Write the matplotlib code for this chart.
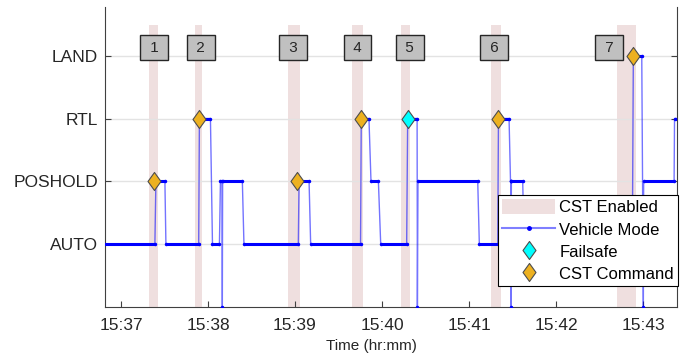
# Vehicle mode vs. CST commands

import numpy as np
import pandas as pd
import matplotlib
matplotlib.use('Agg')
import matplotlib.pyplot as plt
import matplotlib.dates as mdates
from matplotlib.path import Path
from matplotlib.lines import Line2D
from matplotlib.patches import Patch
from matplotlib.collections import LineCollection

plt.rcParams['font.family'] = 'Liberation Sans'

den = '2020-01-01 '  # datum je jen pro prevod casu

# rezimy na ose y
mode_names = ['AUTO', 'POSHOLD', 'RTL', 'LAND']
mode_levels = [1, 2, 3, 4]

# vehicle mode - vrcholy cary (0 = vypadek zaznamu)
mode_time = ['15:36:48', '15:37:23.4', '15:37:24.1', '15:37:30.3', '15:37:31.0', '15:37:53.6',
             '15:37:54.1', '15:38:01.7', '15:38:03.1', '15:38:07.9', '15:38:08.6', '15:38:09.7',
             '15:38:09.9', '15:38:10.1', '15:38:23.7', '15:38:24.8', '15:39:02.3', '15:39:02.8',
             '15:39:09.7', '15:39:10.8', '15:39:45.2', '15:39:45.7', '15:39:51.0', '15:39:52.4',
             '15:39:57.5', '15:39:59.1', '15:40:17.0', '15:40:17.7', '15:40:24.2', '15:40:24.4',
             '15:40:24.8', '15:41:06.0', '15:41:07.1', '15:41:19.8', '15:41:20.3', '15:41:27.6',
             '15:41:28.6', '15:41:28.8', '15:41:29.0', '15:41:29.2', '15:41:37.0', '15:41:38.0',
             '15:42:52.6', '15:42:53.3', '15:42:59.1', '15:43:00.2', '15:43:00.4', '15:43:21.4',
             '15:43:21.7', '15:43:32.0']
mode_val = [1, 1, 2, 2, 1, 1,
            3, 3, 1, 1, 2, 2,
            0, 2, 2, 1, 1, 2,
            2, 1, 1, 3, 3, 2,
            2, 1, 1, 3, 3, 0,
            2, 2, 1, 1, 3, 3,
            2, 2, 0, 2, 2, 1,
            1, 4, 4, 0, 2, 2,
            3, 3]

# CST enabled useky
cst_start = ['15:37:19.3', '15:37:51.0', '15:38:55.4', '15:39:39.1', '15:40:12.9', '15:41:15.0', '15:42:41.9']
cst_end = ['15:37:25.3', '15:37:55.7', '15:39:03.4', '15:39:47.1', '15:40:19.3', '15:41:21.9', '15:42:55.2']
cst_label_time = ['15:37:22.8', '15:37:55.0', '15:38:58.8', '15:39:43.1', '15:40:19.3', '15:41:17.3', '15:42:36.5']
cst_labels = ['1', '2', '3', '4', '5', '6', '7']

# prikazy CST a failsafe
cmd_time = ['15:37:23.0', '15:37:54.0', '15:39:01.6', '15:39:45.5', '15:41:20.0', '15:42:53.3']
cmd_val = [2, 3, 2, 3, 3, 4]
fs_time = ['15:40:17.7']
fs_val = [3]

x_od, x_do = '15:36:49', '15:43:23.4'
y_top = 4.78
band_top = 4.5
label_y = 4.13


def cas(lst):
    d = pd.to_datetime([den + s for s in lst], format='mixed')
    return mdates.date2num(d.to_pydatetime())


tm = cas(mode_time)

fig = plt.figure(figsize=(6.81, 3.56), dpi=100)
ax = fig.add_axes([105 / 681, 1 - 306.5 / 356, 572 / 681, 299.5 / 356])

band_col = '#efdfdf'
for a, b in zip(cas(cst_start), cas(cst_end)):
    ax.axvspan(a, b, ymin=0, ymax=band_top / y_top, color=band_col, lw=0, zorder=0)

# tenka cara + body
ax.plot(tm, mode_val, color=(0, 0, 1, 0.55), lw=1, marker='.', ms=3,
        mfc='blue', mec='blue', zorder=3)

# tlusta vodorovna mista (hustsi vzorky)
segs = [[(tm[i], mode_val[i]), (tm[i + 1], mode_val[i + 1])]
        for i in range(len(tm) - 1) if mode_val[i] == mode_val[i + 1]]
ax.add_collection(LineCollection(segs, colors='blue', linewidths=2.2, capstyle='butt', zorder=3))

# kosoctverec vyssi nez sirsi (jako v matlabu)
kosoctverec = Path([(0, 1), (0.72, 0), (0, -1), (-0.72, 0), (0, 1)], closed=True)
ax.plot(cas(cmd_time), cmd_val, ls='none', marker=kosoctverec, ms=13,
        mfc='#EDB120', mec='#4d4d4d', mew=0.8, zorder=4)
ax.plot(cas(fs_time), fs_val, ls='none', marker=kosoctverec, ms=13,
        mfc='#00FFFF', mec='#4d4d4d', mew=0.8, zorder=4)

for x, lab in zip(cas(cst_label_time), cst_labels):
    ax.text(x, label_y, ' ' + lab + ' ', ha='center', va='center', fontsize=11, color='#262626',
            bbox=dict(boxstyle='square,pad=0.35', fc='#c0c0c0', ec='#262626', lw=1), zorder=5)

ax.set_xlim(cas([x_od])[0], cas([x_do])[0])
ax.set_ylim(0, y_top)
ax.set_yticks(mode_levels)
ax.set_yticklabels(mode_names)
ax.xaxis.set_major_locator(mdates.MinuteLocator())
ax.xaxis.set_major_formatter(mdates.DateFormatter('%H:%M'))
ax.yaxis.grid(True, color='#e3e3e3', lw=1)
ax.set_axisbelow(True)

ax.spines['top'].set_visible(False)
for s in ['left', 'right', 'bottom']:
    ax.spines[s].set_color('#404040')
    ax.spines[s].set_linewidth(0.8)
ax.tick_params(axis='both', direction='in', length=4, color='#404040',
               labelcolor='#262626', labelsize=12.5)
ax.tick_params(axis='y', right=True, pad=5)
ax.tick_params(axis='x', pad=8.5)

ax.set_xlabel('Time (hr:mm)', fontsize=11, color='#262626')
ax.xaxis.set_label_coords(0.465, -0.108)

# legenda
h_band = Patch(facecolor=band_col, edgecolor='none', label='CST Enabled')
h_mode = Line2D([], [], color=(0, 0, 1, 0.5), lw=1.5, marker='.', ms=5, mfc='blue', mec='blue',
                label='Vehicle Mode')
h_fs = Line2D([], [], ls='none', marker=kosoctverec, ms=13, mfc='#00FFFF', mec='#4d4d4d',
              mew=0.8, label='Failsafe')
h_cmd = Line2D([], [], ls='none', marker=kosoctverec, ms=13, mfc='#EDB120', mec='#4d4d4d',
               mew=0.8, label='CST Command')
leg = ax.legend(handles=[h_band, h_mode, h_fs, h_cmd], loc='lower right',
                bbox_to_anchor=(1.002, 0.068), borderaxespad=0, fontsize=12,
                fancybox=False, edgecolor='black', framealpha=1,
                handlelength=3.2, handleheight=1.0, handletextpad=0.25,
                labelspacing=0.36, borderpad=0.25)
leg.get_frame().set_linewidth(0.8)

fig.savefig('out.png', dpi=100)
